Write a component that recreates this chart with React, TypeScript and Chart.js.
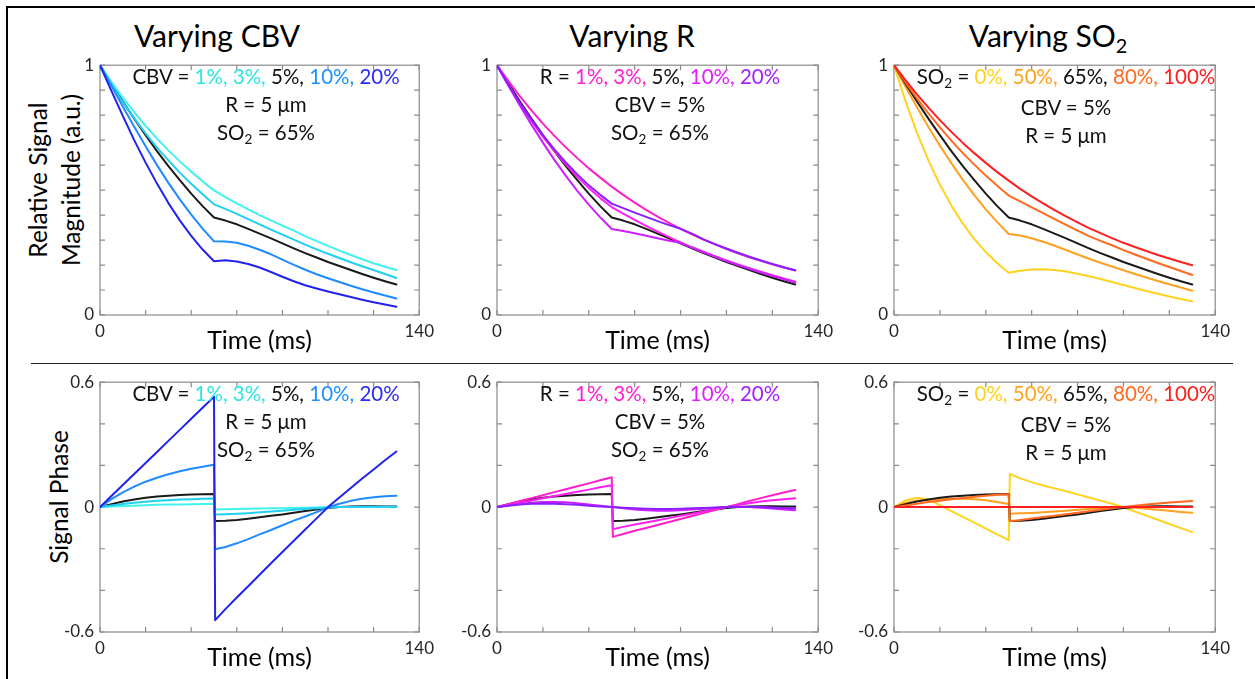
import React, { useEffect, useRef } from 'react';
import { Chart, registerables } from 'chart.js';

Chart.register(...registerables);

const FONT = 'Lato, "Open Sans", sans-serif';
Chart.defaults.font.family = FONT;

// ---------- time axes (ms) ----------
const T_MAG = [0, 5, 10, 15, 20, 25, 30, 35, 40, 45, 50, 55, 60, 65, 70, 75, 80, 85, 90, 95, 100, 105, 110, 115, 120, 125, 130];
const T_PHASE = [0, 5, 10, 15, 20, 25, 30, 35, 40, 45, 50, 50.5, 55, 60, 65, 70, 75, 80, 85, 90, 95, 100, 105, 110, 115, 120, 125, 130];

// ---------- tick labels ----------
const X_TICK_LABELS = ['0', '140'];
const MAG_TICK_LABELS = ['0', '1'];
const PHASE_TICK_LABELS = ['-0.6', '0', '0.6'];

// ---------- magnitude series ----------
const MAG_BASE = [1, 0.927, 0.855, 0.786, 0.72, 0.656, 0.596, 0.54, 0.486, 0.436, 0.39, 0.378, 0.363, 0.345, 0.326, 0.307, 0.287, 0.267, 0.248, 0.23, 0.212, 0.196, 0.18, 0.164, 0.149, 0.135, 0.122];

const MAG_CBV1 = [1, 0.933, 0.87, 0.812, 0.757, 0.706, 0.659, 0.615, 0.574, 0.535, 0.499, 0.472, 0.447, 0.423, 0.4, 0.379, 0.358, 0.338, 0.316, 0.296, 0.277, 0.258, 0.24, 0.223, 0.207, 0.193, 0.18];
const MAG_CBV3 = [1, 0.923, 0.852, 0.787, 0.727, 0.67, 0.619, 0.57, 0.525, 0.483, 0.443, 0.425, 0.405, 0.384, 0.363, 0.342, 0.322, 0.302, 0.282, 0.263, 0.245, 0.228, 0.211, 0.195, 0.18, 0.164, 0.148];
const MAG_CBV10 = [1, 0.918, 0.835, 0.754, 0.676, 0.6, 0.529, 0.463, 0.402, 0.346, 0.295, 0.294, 0.289, 0.277, 0.261, 0.243, 0.222, 0.201, 0.181, 0.163, 0.147, 0.132, 0.117, 0.103, 0.09, 0.078, 0.066];
const MAG_CBV20 = [1, 0.897, 0.797, 0.7, 0.61, 0.526, 0.448, 0.379, 0.317, 0.262, 0.215, 0.219, 0.214, 0.204, 0.19, 0.172, 0.153, 0.135, 0.119, 0.106, 0.094, 0.083, 0.072, 0.061, 0.051, 0.042, 0.033];

const MAG_R1 = [1, 0.936, 0.875, 0.819, 0.766, 0.717, 0.671, 0.628, 0.587, 0.55, 0.514, 0.481, 0.45, 0.421, 0.394, 0.369, 0.345, 0.323, 0.302, 0.283, 0.264, 0.247, 0.231, 0.217, 0.203, 0.19, 0.178];
const MAG_R3 = [1, 0.92, 0.846, 0.777, 0.714, 0.656, 0.603, 0.553, 0.508, 0.468, 0.432, 0.406, 0.381, 0.357, 0.334, 0.312, 0.291, 0.271, 0.253, 0.235, 0.218, 0.202, 0.187, 0.173, 0.159, 0.146, 0.133];
const MAG_R10 = [1, 0.918, 0.838, 0.762, 0.69, 0.621, 0.557, 0.497, 0.442, 0.391, 0.344, 0.336, 0.327, 0.317, 0.307, 0.297, 0.289, 0.27, 0.251, 0.233, 0.216, 0.2, 0.185, 0.17, 0.156, 0.143, 0.13];
const MAG_R20 = [1, 0.921, 0.849, 0.782, 0.72, 0.663, 0.611, 0.563, 0.519, 0.481, 0.446, 0.428, 0.41, 0.393, 0.376, 0.36, 0.345, 0.326, 0.303, 0.284, 0.266, 0.249, 0.233, 0.218, 0.204, 0.191, 0.179];

const MAG_SO0 = [1, 0.856, 0.73, 0.619, 0.522, 0.438, 0.366, 0.304, 0.252, 0.207, 0.169, 0.177, 0.182, 0.183, 0.18, 0.174, 0.165, 0.155, 0.144, 0.132, 0.12, 0.108, 0.096, 0.085, 0.074, 0.064, 0.055];
const MAG_SO50 = [1, 0.914, 0.832, 0.753, 0.678, 0.608, 0.541, 0.48, 0.423, 0.372, 0.324, 0.318, 0.307, 0.293, 0.277, 0.26, 0.242, 0.225, 0.209, 0.194, 0.179, 0.164, 0.15, 0.136, 0.123, 0.11, 0.097];
const MAG_SO80 = [1, 0.932, 0.867, 0.807, 0.751, 0.698, 0.648, 0.602, 0.558, 0.517, 0.478, 0.455, 0.431, 0.408, 0.384, 0.361, 0.338, 0.316, 0.297, 0.279, 0.26, 0.242, 0.225, 0.208, 0.192, 0.176, 0.16];
const MAG_SO100 = [1, 0.94, 0.883, 0.83, 0.78, 0.733, 0.689, 0.648, 0.609, 0.572, 0.538, 0.505, 0.475, 0.447, 0.42, 0.395, 0.371, 0.348, 0.328, 0.308, 0.289, 0.272, 0.256, 0.24, 0.226, 0.212, 0.199];

// ---------- phase series ----------
const PH_BASE = [0, 0.014, 0.027, 0.037, 0.045, 0.051, 0.055, 0.058, 0.06, 0.062, 0.063, -0.067, -0.066, -0.062, -0.056, -0.049, -0.042, -0.035, -0.027, -0.019, -0.011, -0.004, 0.0, 0.003, 0.004, 0.004, 0.003, 0.003];

const PH_CBV1 = [0, 0.003, 0.005, 0.007, 0.009, 0.011, 0.012, 0.013, 0.014, 0.015, 0.015, -0.011, -0.01, -0.009, -0.008, -0.007, -0.006, -0.005, -0.004, -0.003, -0.002, -0.001, 0, 0, 0.001, 0.001, 0.001, 0.001];
const PH_CBV3 = [0, 0.008, 0.015, 0.021, 0.026, 0.03, 0.033, 0.036, 0.038, 0.04, 0.041, -0.035, -0.034, -0.032, -0.029, -0.025, -0.021, -0.017, -0.013, -0.009, -0.005, -0.002, 0.0, 0.001, 0.002, 0.002, 0.002, 0.002];
const PH_CBV10 = [0, 0.038, 0.071, 0.098, 0.122, 0.141, 0.158, 0.172, 0.184, 0.194, 0.203, -0.202, -0.192, -0.174, -0.154, -0.131, -0.11, -0.087, -0.065, -0.045, -0.024, -0.002, 0.016, 0.03, 0.04, 0.047, 0.052, 0.055];
const PH_CBV20 = [0, 0.053, 0.106, 0.159, 0.212, 0.265, 0.318, 0.371, 0.424, 0.477, 0.53, -0.543, -0.49, -0.434, -0.38, -0.325, -0.27, -0.216, -0.162, -0.108, -0.054, 0.0, 0.046, 0.092, 0.137, 0.181, 0.225, 0.267];

const PH_R1 = [0, 0.014, 0.029, 0.043, 0.057, 0.072, 0.086, 0.1, 0.114, 0.129, 0.143, -0.143, -0.129, -0.114, -0.1, -0.086, -0.072, -0.057, -0.043, -0.029, -0.014, 0.0, 0.014, 0.029, 0.043, 0.057, 0.07, 0.082];
const PH_R3 = [0, 0.011, 0.021, 0.032, 0.042, 0.053, 0.063, 0.074, 0.084, 0.095, 0.105, -0.106, -0.095, -0.084, -0.074, -0.063, -0.053, -0.042, -0.032, -0.021, -0.011, 0.0, 0.01, 0.019, 0.027, 0.033, 0.038, 0.042];
const PH_R10 = [0, 0.008, 0.015, 0.021, 0.024, 0.025, 0.023, 0.019, 0.013, 0.007, 0.0, 0.0, -0.006, -0.011, -0.015, -0.017, -0.017, -0.015, -0.012, -0.008, -0.004, 0.0, 0.002, 0.001, -0.003, -0.007, -0.011, -0.015];
const PH_R20 = [0, 0.007, 0.012, 0.016, 0.017, 0.016, 0.014, 0.011, 0.007, 0.003, 0.0, 0.0, -0.003, -0.006, -0.008, -0.009, -0.009, -0.008, -0.006, -0.004, -0.002, 0.0, 0.001, 0.001, 0.0, -0.002, -0.004, -0.006];

const PH_SO0 = [0, 0.032, 0.045, 0.037, 0.009, -0.019, -0.047, -0.075, -0.103, -0.131, -0.159, 0.159, 0.138, 0.12, 0.104, 0.09, 0.076, 0.061, 0.046, 0.031, 0.016, -0.001, -0.021, -0.041, -0.061, -0.081, -0.101, -0.12];
const PH_SO50 = [0, 0.02, 0.03, 0.035, 0.038, 0.04, 0.04, 0.038, 0.033, 0.025, 0.015, -0.032, -0.03, -0.028, -0.025, -0.021, -0.017, -0.013, -0.009, -0.005, -0.002, 0.0, -0.003, -0.008, -0.013, -0.018, -0.023, -0.027];
const PH_SO80 = [0, 0.008, 0.016, 0.024, 0.031, 0.038, 0.044, 0.05, 0.055, 0.059, 0.062, -0.068, -0.062, -0.055, -0.048, -0.041, -0.034, -0.027, -0.02, -0.013, -0.006, 0.0, 0.006, 0.012, 0.017, 0.022, 0.026, 0.029];
const PH_SO100 = [0, 0, 0, 0, 0, 0, 0, 0, 0, 0, 0, 0, 0, 0, 0, 0, 0, 0, 0, 0, 0, 0, 0, 0, 0, 0, 0, 0];

// ---------- colours ----------
const BLACK = '#1a1a1a';
const CBV_COLORS = ['#3ff2ee', '#1fd0f2', BLACK, '#1f8bff', '#2222ee'];
const R_COLORS = ['#ff1fc8', '#ff1ff0', BLACK, '#d01fff', '#8b1fff'];
const SO_COLORS = ['#ffd21f', '#ffa01f', BLACK, '#ff6a1f', '#ff1f1f'];

type Series = { t: number[]; v: number[]; color: string; order: number };

const mk = (t: number[], vs: number[][], colors: string[], orders: number[]): Series[] =>
  vs.map((v, i) => ({ t, v, color: colors[i], order: orders[i] }));

const PAD_L = 50;
const PAD_T = 14;
const PAD_R = 20;
const PAD_B = 45;
const PLOT_H = 252;

const boxPlugin = {
  id: 'matlabBox',
  beforeDatasetsDraw(chart: any) {
    const { ctx, chartArea: a, scales } = chart;
    const L = 5;
    ctx.save();
    ctx.strokeStyle = '#8a8a8a';
    ctx.lineWidth = 1.2;
    ctx.beginPath();
    scales.x.ticks.forEach((t: any) => {
      const px = scales.x.getPixelForValue(t.value);
      ctx.moveTo(px, a.bottom);
      ctx.lineTo(px, a.bottom - L);
      ctx.moveTo(px, a.top);
      ctx.lineTo(px, a.top + L);
    });
    scales.y.ticks.forEach((t: any) => {
      const py = scales.y.getPixelForValue(t.value);
      ctx.moveTo(a.left, py);
      ctx.lineTo(a.left + L, py);
      ctx.moveTo(a.right, py);
      ctx.lineTo(a.right - L, py);
    });
    ctx.stroke();
    ctx.strokeRect(a.left, a.top, a.right - a.left, a.bottom - a.top);
    ctx.restore();
  },
};

type PanelProps = { left: number; top: number; width: number; kind: 'mag' | 'phase'; series: Series[] };

function Panel({ left, top, width, kind, series }: PanelProps) {
  const ref = useRef<HTMLCanvasElement>(null);
  const cw = PAD_L + width + PAD_R;
  const ch = PAD_T + PLOT_H + PAD_B;
  useEffect(() => {
    if (!ref.current) return;
    const isMag = kind === 'mag';
    const yLabels = isMag ? MAG_TICK_LABELS : PHASE_TICK_LABELS;
    const chart = new Chart(ref.current, {
      type: 'line',
      data: {
        datasets: series.map((s) => ({
          data: s.t.map((x, i) => ({ x, y: s.v[i] })),
          borderColor: s.color,
          backgroundColor: s.color,
          borderWidth: 2,
          pointRadius: 0,
          tension: 0,
          fill: false,
          order: s.order,
          borderJoinStyle: 'round',
          borderCapStyle: 'round',
        })),
      },
      options: {
        animation: false,
        responsive: false,
        maintainAspectRatio: false,
        layout: { padding: { left: 0, top: PAD_T, right: PAD_R, bottom: 0 } },
        plugins: { legend: { display: false }, tooltip: { enabled: false } },
        scales: {
          x: {
            type: 'linear',
            min: 0,
            max: 140,
            grid: { display: false, drawTicks: false },
            border: { display: false },
            ticks: {
              stepSize: 20,
              autoSkip: false,
              maxRotation: 0,
              padding: 6,
              color: '#262626',
              font: { size: 17, family: FONT },
              callback: (v: any) => (X_TICK_LABELS.includes(String(v)) ? String(v) : ''),
            },
            title: {
              display: true,
              text: 'Time (ms)',
              color: '#000',
              font: { size: 25, family: FONT },
              padding: { top: 0, bottom: 4 },
            },
            afterFit: (s: any) => {
              s.height = PAD_B;
            },
          },
          y: {
            type: 'linear',
            min: isMag ? 0 : -0.6,
            max: isMag ? 1 : 0.6,
            grid: { display: false, drawTicks: false },
            border: { display: false },
            ticks: {
              stepSize: isMag ? 0.1 : 0.2,
              autoSkip: false,
              padding: 6,
              color: '#262626',
              font: { size: 17, family: FONT },
              callback: (v: any) => {
                const r = String(Math.round(Number(v) * 10) / 10);
                return yLabels.includes(r) ? r : '';
              },
            },
            afterFit: (s: any) => {
              s.width = PAD_L;
            },
          },
        },
      },
      plugins: [boxPlugin],
    } as any);
    return () => chart.destroy();
  }, []);
  return (
    <canvas
      ref={ref}
      width={cw}
      height={ch}
      style={{ position: 'absolute', left: left - PAD_L, top: top - PAD_T, width: cw, height: ch }}
    />
  );
}

const Sub = ({ children }: { children: React.ReactNode }) => (
  <span style={{ fontSize: '0.66em', position: 'relative', top: '0.32em' }}>{children}</span>
);

const K = '#111';

const cbvLine: React.ReactNode = (
  <>
    <span style={{ color: K }}>CBV = </span>
    <span style={{ color: '#33e3e3' }}>1%, 3%, </span>
    <span style={{ color: K }}>5%, </span>
    <span style={{ color: '#1e90ff' }}>10%, </span>
    <span style={{ color: '#2b2bf5' }}>20%</span>
  </>
);
const rLine: React.ReactNode = (
  <>
    <span style={{ color: K }}>R = </span>
    <span style={{ color: '#ff1ed2' }}>1%, 3%, </span>
    <span style={{ color: K }}>5%, </span>
    <span style={{ color: '#e01eff' }}>10%, </span>
    <span style={{ color: '#a51eff' }}>20%</span>
  </>
);
const soLine: React.ReactNode = (
  <>
    <span style={{ color: K }}>
      SO<Sub>2</Sub> ={' '}
    </span>
    <span style={{ color: '#ffd21e' }}>0%, </span>
    <span style={{ color: '#ffa31e' }}>50%, </span>
    <span style={{ color: K }}>65%, </span>
    <span style={{ color: '#ff6a1e' }}>80%, </span>
    <span style={{ color: '#ff1e1e' }}>100%</span>
  </>
);
const rFixed = <span style={{ color: K }}>R = 5 μm</span>;
const cbvFixed = <span style={{ color: K }}>CBV = 5%</span>;
const soFixed = (
  <span style={{ color: K }}>
    SO<Sub>2</Sub> = 65%
  </span>
);

function TextBlock({ cx, top, lines }: { cx: number; top: number; lines: React.ReactNode[] }) {
  return (
    <div
      style={{
        position: 'absolute',
        left: cx - 200,
        top,
        width: 400,
        textAlign: 'center',
        fontSize: 20.5,
        lineHeight: '28px',
        whiteSpace: 'nowrap',
        fontFamily: FONT,
      }}
    >
      {lines.map((l, i) => (
        <div key={i}>{l}</div>
      ))}
    </div>
  );
}

function Title({ cx, children }: { cx: number; children: React.ReactNode }) {
  return (
    <div
      style={{
        position: 'absolute',
        left: cx - 150,
        top: 20,
        width: 300,
        textAlign: 'center',
        fontSize: 30,
        lineHeight: '30px',
        whiteSpace: 'nowrap',
        color: '#000',
        fontFamily: FONT,
      }}
    >
      {children}
    </div>
  );
}

function VLabel({ cx, cy, text }: { cx: number; cy: number; text: string }) {
  return (
    <div
      style={{
        position: 'absolute',
        left: cx,
        top: cy,
        transform: 'translate(-50%, -50%) rotate(-90deg)',
        fontSize: 24.5,
        lineHeight: '25px',
        whiteSpace: 'nowrap',
        color: '#000',
        fontFamily: FONT,
      }}
    >
      {text}
    </div>
  );
}

const COLS = [
  { left: 100, width: 320, cx: 266 },
  { left: 497, width: 322, cx: 660 },
  { left: 894, width: 322, cx: 1066 },
];
const ROW_TOP = [63, 380];

export default function App() {
  const magCbv = mk(T_MAG, [MAG_CBV1, MAG_CBV3, MAG_BASE, MAG_CBV10, MAG_CBV20], CBV_COLORS, [4, 3, 5, 2, 1]);
  const magR = mk(T_MAG, [MAG_R1, MAG_R3, MAG_BASE, MAG_R10, MAG_R20], R_COLORS, [4, 3, 5, 2, 1]);
  const magSo = mk(T_MAG, [MAG_SO0, MAG_SO50, MAG_BASE, MAG_SO80, MAG_SO100], SO_COLORS, [5, 4, 3, 2, 1]);
  const phCbv = mk(T_PHASE, [PH_CBV1, PH_CBV3, PH_BASE, PH_CBV10, PH_CBV20], CBV_COLORS, [4, 3, 5, 2, 1]);
  const phR = mk(T_PHASE, [PH_R1, PH_R3, PH_BASE, PH_R10, PH_R20], R_COLORS, [4, 3, 5, 2, 1]);
  const phSo = mk(T_PHASE, [PH_SO0, PH_SO50, PH_BASE, PH_SO80, PH_SO100], SO_COLORS, [5, 4, 3, 2, 1]);

  return (
    <div
      style={{
        position: 'absolute',
        left: 0,
        top: 0,
        width: 1255,
        height: 679,
        overflow: 'hidden',
        background: '#fff',
        fontFamily: FONT,
      }}
    >
      <div
        style={{
          position: 'absolute',
          left: 6,
          top: 6,
          width: 1300,
          height: 700,
          borderTop: '2px solid #000',
          borderLeft: '2px solid #000',
        }}
      />
      <div style={{ position: 'absolute', left: 31, top: 363, width: 1202, height: 0, borderTop: '1.5px solid #222' }} />

      <Title cx={217}>Varying CBV</Title>
      <Title cx={632}>Varying R</Title>
      <Title cx={1048}>
        Varying SO<Sub>2</Sub>
      </Title>

      <VLabel cx={37} cy={180} text="Relative Signal" />
      <VLabel cx={70} cy={180} text="Magnitude (a.u.)" />
      <VLabel cx={58} cy={497} text="Signal Phase" />

      <Panel left={COLS[0].left} top={ROW_TOP[0]} width={COLS[0].width} kind="mag" series={magCbv} />
      <Panel left={COLS[1].left} top={ROW_TOP[0]} width={COLS[1].width} kind="mag" series={magR} />
      <Panel left={COLS[2].left} top={ROW_TOP[0]} width={COLS[2].width} kind="mag" series={magSo} />
      <Panel left={COLS[0].left} top={ROW_TOP[1]} width={COLS[0].width} kind="phase" series={phCbv} />
      <Panel left={COLS[1].left} top={ROW_TOP[1]} width={COLS[1].width} kind="phase" series={phR} />
      <Panel left={COLS[2].left} top={ROW_TOP[1]} width={COLS[2].width} kind="phase" series={phSo} />

      <TextBlock cx={COLS[0].cx} top={62.1} lines={[cbvLine, rFixed, soFixed]} />
      <TextBlock cx={COLS[1].cx} top={62.1} lines={[rLine, cbvFixed, soFixed]} />
      <TextBlock cx={COLS[2].cx} top={62.1} lines={[soLine, cbvFixed, rFixed]} />
      <TextBlock cx={COLS[0].cx} top={378.8} lines={[cbvLine, rFixed, soFixed]} />
      <TextBlock cx={COLS[1].cx} top={378.8} lines={[rLine, cbvFixed, soFixed]} />
      <TextBlock cx={COLS[2].cx} top={378.8} lines={[soLine, cbvFixed, rFixed]} />
    </div>
  );
}
